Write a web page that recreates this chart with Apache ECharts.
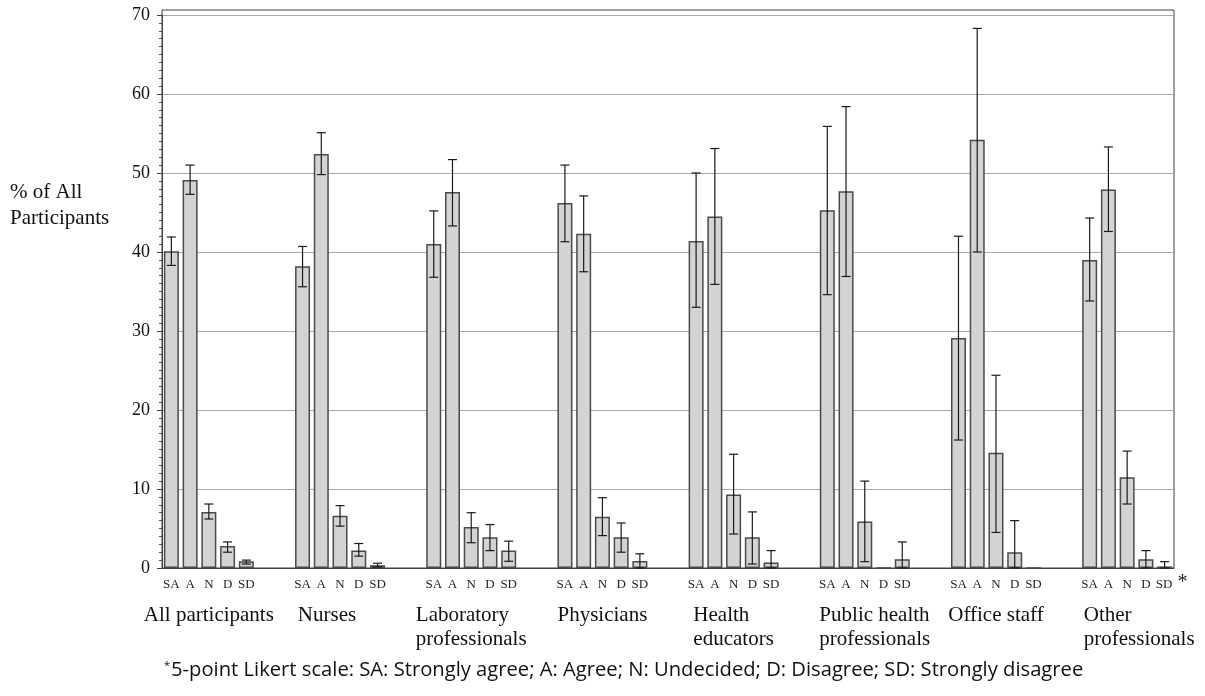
<!DOCTYPE html>
<html><head><meta charset="utf-8">
<script src="https://cdn.jsdelivr.net/npm/echarts@6/dist/echarts.min.js"></script>
<style>html,body{margin:0;padding:0;background:#fff}#c{width:1205px;height:696px}</style>
</head><body><div id="c"></div>
<script>
// ---------- data ----------
const groups = ['All participants', 'Nurses', 'Laboratory\nprofessionals', 'Physicians',
  'Health\neducators', 'Public health\nprofessionals', 'Office staff', 'Other\nprofessionals'];
const levels = ['SA', 'A', 'N', 'D', 'SD'];

const saValues = [40.1, 38.2, 41.0, 46.2, 41.4, 45.3, 29.1, 39.0];
const saLow    = [38.3, 35.6, 36.8, 41.3, 33.0, 34.6, 16.2, 33.8];
const saHigh   = [41.9, 40.7, 45.2, 51.0, 50.0, 55.9, 42.0, 44.3];

const aValues  = [49.1, 52.4, 47.6, 42.3, 44.5, 47.7, 54.2, 47.9];
const aLow     = [47.3, 49.8, 43.3, 37.5, 35.9, 36.9, 40.0, 42.6];
const aHigh    = [51.0, 55.1, 51.7, 47.1, 53.1, 58.4, 68.3, 53.3];

const nValues  = [7.1, 6.6, 5.2, 6.5, 9.3, 5.9, 14.6, 11.5];
const nLow     = [6.2, 5.3, 3.2, 4.1, 4.3, 0.8, 4.5, 8.1];
const nHigh    = [8.1, 7.9, 7.0, 8.9, 14.4, 11.0, 24.4, 14.8];

const dValues  = [2.8, 2.2, 3.9, 3.9, 3.9, 0, 2.0, 1.1];
const dLow     = [2.0, 1.5, 2.2, 2.0, 0.5, 0, 0, 0];
const dHigh    = [3.3, 3.1, 5.5, 5.7, 7.1, 0, 6.0, 2.2];

const sdValues = [0.85, 0.35, 2.2, 0.9, 0.7, 1.1, 0, 0.2];
const sdLow    = [0.5, 0.15, 0.85, 0, 0, 0, 0, 0];
const sdHigh   = [1.0, 0.6, 3.4, 1.8, 2.2, 3.3, 0, 0.8];

const yTicks = [0, 10, 20, 30, 40, 50, 60, 70];
const footnote = '5-point Likert scale: SA: Strongly agree; A: Agree; N: Undecided; D: Disagree; SD: Strongly disagree';
const yName = '% of All\nParticipants';

// ---------- build slot layout (5 bars + 2 empty slots per group) ----------
const valuesByLevel = [saValues, aValues, nValues, dValues, sdValues];
const lowByLevel = [saLow, aLow, nLow, dLow, sdLow];
const highByLevel = [saHigh, aHigh, nHigh, dHigh, sdHigh];
const PER = 7;
const nSlots = PER * (groups.length - 1) + levels.length;
const slotIds = [], slotLabels = [], barData = [], errData = [];
for (let i = 0; i < nSlots; i++) { slotIds.push('s' + i); slotLabels.push(''); barData.push(null); }
groups.forEach((g, gi) => {
  levels.forEach((lv, li) => {
    const s = gi * PER + li;
    slotLabels[s] = lv;
    barData[s] = valuesByLevel[li][gi];
    const lo = lowByLevel[li][gi], hi = highByLevel[li][gi];
    if (hi > lo) errData.push([s, lo, hi]);
  });
});

const serif = 'Liberation Serif';
// label nudges (style only): spacer before (shift right) or after (shift left)
const groupNudgeBefore = { 5: 's20', 7: 's24' };
const groupNudgeAfter = { 1: 's26' };

const chart = echarts.init(document.getElementById('c'), null, { renderer: 'canvas' });
chart.setOption({
  backgroundColor: '#fff',
  animation: false,
  title: [
    { text: yName, left: 10, top: 179, padding: 0,
      textStyle: { fontFamily: serif, fontSize: 21, fontWeight: 'normal', color: '#111', lineHeight: 26 } },
    { text: '{s|*}{t|' + footnote + '}', left: 164, top: 660, padding: 0,
      textStyle: { fontWeight: 'normal', rich: {
        s: { fontFamily: 'Open Sans', fontWeight: 'normal', fontSize: 11, color: '#111', verticalAlign: 'top', padding: [0, 1, 8, 0] },
        t: { fontFamily: 'Open Sans', fontWeight: 'normal', fontSize: 20.2, color: '#111' } } } }
  ],
  grid: [
    { left: 162, right: 31, top: 10, bottom: 128, show: true, borderColor: '#404040', borderWidth: 1, backgroundColor: 'transparent' },
    { left: 162, right: 31, top: 15, bottom: 128 }
  ],
  xAxis: [
    { gridIndex: 0, type: 'category', data: slotIds, show: false },
    { gridIndex: 1, type: 'category', data: slotIds, position: 'bottom',
      axisLine: { show: true, lineStyle: { color: '#404040', width: 1 } },
      axisTick: { show: false },
      axisLabel: { interval: 0, margin: 10, fontFamily: serif, fontSize: 13, color: '#222',
        formatter: (v, i) => {
          const t = slotLabels[i];
          if (!t) return '';
          if (i === nSlots - 1) return '{pad| }{l|' + t + '}{ast|*}';
          return '{l|' + t + '}';
        },
        rich: {
          l: { fontFamily: serif, fontSize: 13, color: '#222', lineHeight: 14 },
          pad: { width: 14, lineHeight: 14 },
          ast: { fontFamily: serif, fontSize: 20, color: '#222', lineHeight: 14, padding: [0, 0, 4, 5] }
        } } },
    { gridIndex: 1, type: 'category', data: slotIds, position: 'bottom',
      axisLine: { show: false }, axisTick: { show: false },
      axisLabel: { interval: 0, margin: 35, align: 'center',
        formatter: (v, i) => {
          if (i % PER !== 2) return '';
          const g = (i - 2) / PER;
          const b = groupNudgeBefore[g], a = groupNudgeAfter[g];
          return groups[g].split('\n').map(line =>
            (b ? '{' + b + '| }' : '') + '{g|' + line + '}' + (a ? '{' + a + '| }' : '')).join('\n');
        },
        rich: {
          g: { fontFamily: serif, fontSize: 21, lineHeight: 24.5, color: '#111', align: 'left' },
          s26: { width: 26, align: 'left', lineHeight: 24.5 },
          s20: { width: 20, align: 'left', lineHeight: 24.5 },
          s24: { width: 24, align: 'left', lineHeight: 24.5 }
        } } }
  ],
  yAxis: [
    { gridIndex: 0, type: 'value', min: 0, max: 70, show: false },
    { gridIndex: 1, type: 'value', min: yTicks[0], max: yTicks[yTicks.length - 1], interval: 10,
      axisLine: { show: true, lineStyle: { color: '#404040', width: 1 } },
      axisTick: { show: true, length: 5, lineStyle: { color: '#404040' } },
      minorTick: { show: true, splitNumber: 10, length: 3, lineStyle: { color: '#555' } },
      splitLine: { show: true, lineStyle: { color: '#a8a8a8', width: 1 } },
      axisLabel: { margin: 12, fontFamily: serif, fontSize: 18, color: '#111' } }
  ],
  series: [
    { type: 'bar', xAxisIndex: 1, yAxisIndex: 1, data: barData, barWidth: 15,
      itemStyle: { color: '#d3d3d3', borderColor: '#4a4a4a', borderWidth: 1.5 } },
    { type: 'custom', xAxisIndex: 1, yAxisIndex: 1, data: errData, encode: { x: 0, y: [1, 2] },
      clip: false, z: 5,
      renderItem: (params, api) => {
        const x = api.value(0);
        const p1 = api.coord([x, api.value(2)]);
        const p2 = api.coord([x, api.value(1)]);
        const hw = 4.5;
        const st = { stroke: '#1a1a1a', lineWidth: 1.2 };
        return { type: 'group', children: [
          { type: 'line', shape: { x1: p1[0], y1: p1[1], x2: p2[0], y2: p2[1] }, style: st },
          { type: 'line', shape: { x1: p1[0] - hw, y1: p1[1], x2: p1[0] + hw, y2: p1[1] }, style: st },
          { type: 'line', shape: { x1: p2[0] - hw, y1: p2[1], x2: p2[0] + hw, y2: p2[1] }, style: st }
        ] };
      } }
  ]
});
</script></body></html>
